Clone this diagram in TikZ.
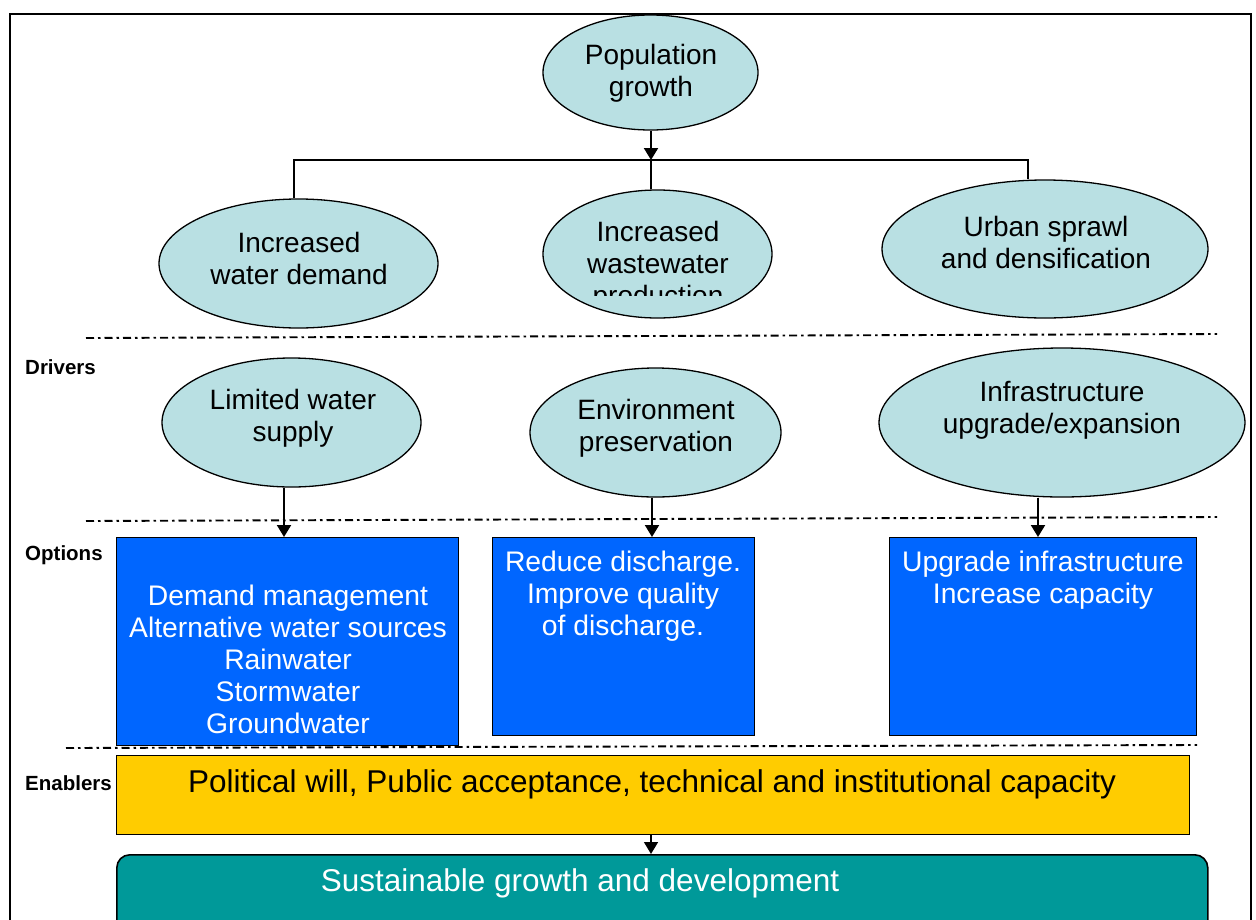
\documentclass[tikz,border=0pt]{standalone}
\usepackage{fontspec}
\setmainfont{Liberation Sans}
\usetikzlibrary{shapes.geometric,arrows.meta}
\definecolor{ellfill}{HTML}{B9E0E3}
\definecolor{optblue}{HTML}{0066FF}
\definecolor{enabyellow}{HTML}{FFCC00}
\definecolor{goalteal}{HTML}{009999}
\begin{document}
\begin{tikzpicture}[x=1pt,y=-1pt,
  ell/.style={ellipse,draw=black,line width=1.3pt,fill=ellfill,inner sep=0pt},
  etext/.style={align=center,font=\fontsize{28}{32}\selectfont,inner sep=0pt},
  wtext/.style={align=center,font=\fontsize{28.3}{32}\selectfont,inner sep=0pt,text=white},
  obox/.style={rectangle,draw=black,line width=1.3pt,fill=optblue,inner sep=0pt,anchor=north west},
  conn/.style={draw=black,line width=1.4pt},
  arr/.style={draw=black,line width=2pt,-{Triangle[width=14pt,length=12pt]}},
  sep/.style={draw=black,line width=1.9pt,dash pattern=on 8pt off 4pt on 2.5pt off 4pt},
  lbl/.style={anchor=west,font=\fontsize{20.5}{22}\selectfont\bfseries,inner sep=0pt}
]
\useasboundingbox (0,0) rectangle (1256,919);
% frame
\draw[line width=1.6pt] (10,930) -- (10,14) -- (1251,14) -- (1251,930);

% top ellipses
\node[ell,minimum width=215pt,minimum height=115pt] (pop) at (650.5,72.5) {};
\node[etext] (popt) at (651,73) {Population\\growth};
\node[ell,minimum width=279pt,minimum height=129pt] (wd) at (298.5,263.5) {};
\node[etext] (wdt) at (299,258) {Increased\\water demand};
\node[ell,minimum width=229pt,minimum height=128pt] (ww) at (657.5,254) {};
\begin{scope}
  \clip (540,205) rectangle (775,295);
  \node[etext] (wwt) at (658,266) {Increased\\wastewater\\production};
\end{scope}
\node[ell,minimum width=326pt,minimum height=138pt] (ur) at (1045,249) {};
\node[etext] (urt) at (1046,242) {Urban sprawl\\and densification};

% tree connectors
\coordinate (hl) at (294,160);
\coordinate (hm) at (651,160);
\coordinate (hr) at (1028,160);
\draw[arr] (pop.south -| hm) -- (hm);
\draw[conn] (wd.north -| hl) -- (hl) -- (hr) -- (ur.north -| hr);
\draw[conn] (hm) -- (ww.north -| hm);

% separators
\coordinate (s1a) at (86,338); \coordinate (s1b) at (1217,334);
\coordinate (s2a) at (86,521); \coordinate (s2b) at (1217,517);
\coordinate (s3a) at (66,748); \coordinate (s3b) at (1197,745);
\draw[sep] (s1a) -- (s1b);
\draw[sep] (s2a) -- (s2b);
\draw[sep] (s3a) -- (s3b);

% labels
\node[lbl] (ldrv) at (25,367) {Drivers};
\node[lbl] (lopt) at (25,555) {Options};
\node[lbl] (lena) at (25,783) {Enablers};

% driver ellipses
\node[ell,minimum width=259pt,minimum height=129pt] (ls) at (291.5,422.5) {};
\node[etext] (lst) at (293,418) {Limited water\\supply};
\node[ell,minimum width=251pt,minimum height=129pt] (ep) at (655.5,432.5) {};
\node[etext] (ept) at (656,428) {Environment\\preservation};
\node[ell,minimum width=366pt,minimum height=149pt] (ie) at (1062,422.5) {};
\node[etext] (iet) at (1062,410) {Infrastructure\\upgrade/expansion};

% option boxes
\node[obox,minimum width=342pt,minimum height=208pt] (b1) at (116,537) {};
\node[wtext] (b1t) at (288,659) {Demand management\\Alternative water sources\\Rainwater\\Stormwater\\Groundwater};
\node[obox,minimum width=262pt,minimum height=198pt] (b2) at (492,537) {};
\node[wtext] (b2t) at (623,596) {Reduce discharge.\\Improve quality\\of discharge.};
\node[obox,minimum width=307pt,minimum height=198pt] (b3) at (889,537) {};
\node[wtext] (b3t) at (1043,580) {Upgrade infrastructure\\Increase capacity};

% driver -> option arrows
\coordinate (a1) at (284,0);
\coordinate (a2) at (652,0);
\coordinate (a3) at (1038,0);
\draw[arr] (ls.south -| a1) -- (b1.north -| a1);
\draw[arr] (ep.south -| a2) -- (b2.north -| a2);
\draw[arr] (ie.south -| a3) -- (b3.north -| a3);

% enablers
\node[rectangle,draw=black,line width=1.3pt,fill=enabyellow,inner sep=0pt,anchor=north west,
      minimum width=1073pt,minimum height=79pt] (en) at (116,755) {};
\node[etext,font=\fontsize{31.5}{34}\selectfont] (ent) at (652,784) {Political will,\ Public acceptance,\ technical\ and\ institutional\ capacity};

% goal
\node[rectangle,rounded corners=13pt,draw=black,line width=1.6pt,fill=goalteal,inner sep=0pt,anchor=north west,
      minimum width=1091pt,minimum height=90pt] (goal) at (116,854) {};
\node[wtext,font=\fontsize{31.5}{34}\selectfont] (goalt) at (580,883) {Sustainable growth and development};

\coordinate (ga) at (651,0);
\draw[arr,line width=1.5pt] (en.south -| ga) -- (goal.north -| ga);
\end{tikzpicture}
\end{document}
